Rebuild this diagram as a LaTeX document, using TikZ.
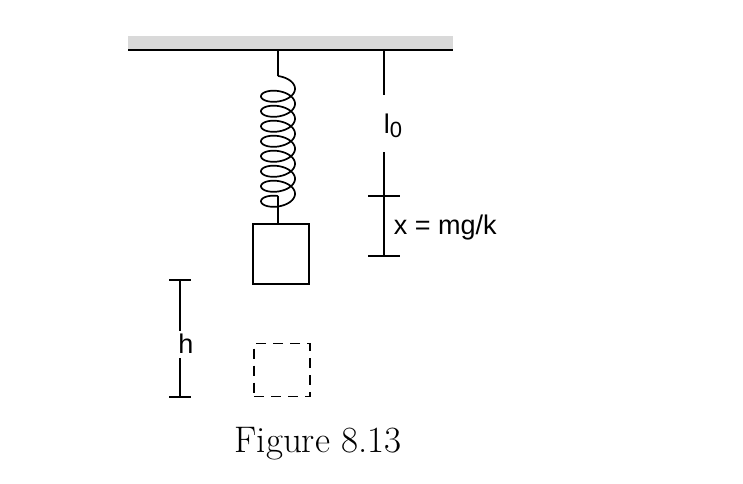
\documentclass[tikz,border=0pt]{standalone}
\usepackage{fontspec}
\newfontfamily\lab{Liberation Sans}
\begin{document}
\begin{tikzpicture}[x=1pt,y=-1pt,line width=1.9pt,
  lbl/.style={font=\lab\fontsize{27}{32}\selectfont,inner sep=1pt}]
\useasboundingbox (0,0) rectangle (743,483);
\fill[gray!30] (128,36) rectangle (453,50);
\draw[line width=2.4pt] (128,50) -- (453,50);
% spring
\coordinate (st) at (278,50);
\coordinate (sb) at (278,223);
\draw (st) -- (278,76);
\draw[line width=1.7pt] plot[domain=0:2880,samples=500,smooth] ({278+17*sin(\x)},{85+\x/360*15-9*cos(\x)});
\draw (278,196) -- (sb);
\node[draw,minimum width=56pt,minimum height=60pt,anchor=north,inner sep=0] (mass) at (281,223) {};
\node[draw,dashed,dash pattern=on 10pt off 7pt,minimum width=56pt,minimum height=53pt,inner sep=0] (ghost) at (282,370) {};
% l0 and x
\node[lbl] (l0) at (393,126) {l\raisebox{-4pt}{\fontsize{22}{26}\selectfont 0}};
\coordinate (a) at (384,50);
\coordinate (b) at (384,256);
\draw (a) -- (384,95);
\draw (384,152) -- (b);
\draw (368,196) -- (400,196);
\draw (368,256) -- (400,256);
\node[lbl,anchor=west] (x) at (392,228) {x = mg/k};
% h
\node[lbl] (h) at (186,344) {h};
\draw (169,280) -- (191,280);
\draw (169,397) -- (191,397);
\draw (180,280) -- (180,331);
\draw (180,358) -- (180,397);
\node[font=\fontsize{37}{42}\selectfont] (cap) at (318,444) {Figure 8.13};
\end{tikzpicture}
\end{document}
